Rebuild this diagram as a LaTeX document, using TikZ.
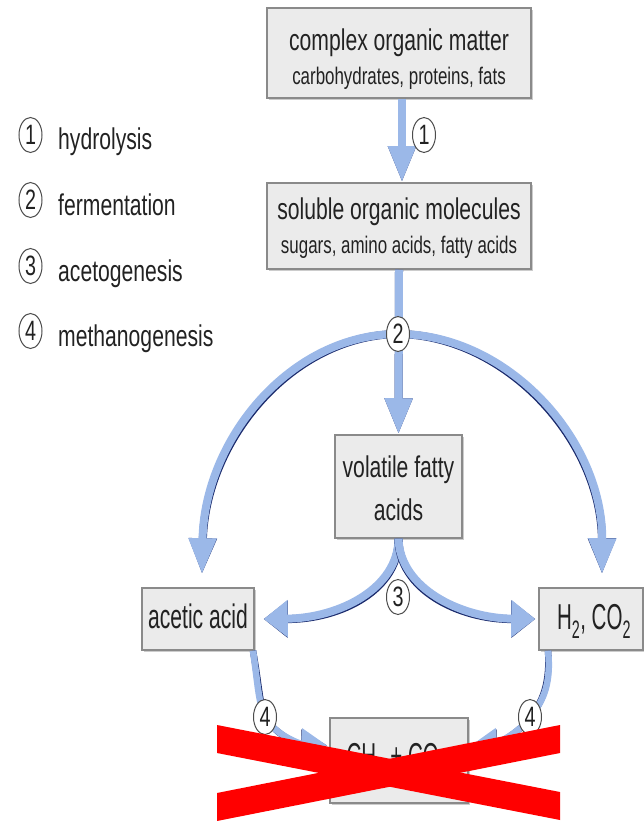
\documentclass[tikz,border=0pt]{standalone}
\usepackage{fontspec}
\setmainfont{Liberation Sans}[FakeStretch=0.705]
\newfontfamily\acetfont{Liberation Sans}[FakeStretch=0.62]
\newfontfamily\htwofont{Liberation Sans}[FakeStretch=0.57]
\usetikzlibrary{arrows.meta,shapes.geometric,shadows}
\definecolor{flowblue}{HTML}{9BB8E8}
\definecolor{navy}{HTML}{1A2A6C}
\definecolor{boxfill}{HTML}{EBEBEB}
\definecolor{boxline}{HTML}{8A8A8A}
\definecolor{txt}{HTML}{222222}
\newcommand\flowdraw[3][]{%
  \draw[flowline, draw=navy, shift={#2}, #1] #3;
  \draw[flowline, #1] #3;}
\begin{document}
\begin{tikzpicture}[x=1pt,y=-1pt,
  box/.style={draw=boxline, line width=1.5pt, fill=boxfill, inner sep=0pt,
    drop shadow={shadow xshift=1.5pt, shadow yshift=-2pt, fill=gray!50, opacity=0.8}},
  big/.style={font=\fontsize{30}{34}\selectfont, text=txt, inner sep=0pt},
  acet/.style={font=\acetfont\fontsize{34}{38}\selectfont, text=txt, inner sep=0pt},
  htwo/.style={font=\htwofont\fontsize{36}{40}\selectfont, text=txt, inner sep=0pt},
  small/.style={font=\fontsize{24}{28}\selectfont, text=txt, inner sep=0pt},
  badge/.style={ellipse, draw=black!70, line width=1pt, fill=white,
    minimum width=23pt, minimum height=35pt, inner sep=0pt,
    font=\fontsize{28}{30}\selectfont, text=txt},
  flowline/.style={line width=8pt, draw=flowblue, -{Triangle[width=26pt,length=36pt]}},
  sidehead/.style={-{Triangle[width=36pt,length=24pt]}},
  endhead/.style={line width=6.5pt, -{Triangle[width=30pt,length=26pt]}}
]
\useasboundingbox (0,0) rectangle (643,821);

% boxes
\node[box, minimum width=264pt, minimum height=90pt] (top) at (399,53) {};
\node[box, minimum width=264pt, minimum height=86pt] (sol) at (399,226) {};
\node[box, minimum width=127pt, minimum height=103pt] (vfa) at (398.5,486.5) {};
\node[box, minimum width=112pt, minimum height=62pt] (acetic) at (198,619) {};
\node[box, minimum width=104pt, minimum height=62pt] (h2) at (591,619) {};
\node[box, minimum width=138pt, minimum height=85pt] (bot) at (399,760.5) {};

% box texts
\node[big] (topt) at (399,42.5) {complex organic matter};
\node[small] (tops) at (399,78) {carbohydrates, proteins, fats};
\node[big] (solt) at (399,212) {soluble organic molecules};
\node[small] (sols) at (399,247) {sugars, amino acids, fatty acids};
\node[big] (vfat) at (398.5,470) {volatile fatty};
\node[big] (vfas) at (398.5,510) {acids};
\node[acet] (acett) at (198,616) {acetic acid};
\node[htwo, anchor=base] (h2t) at (594,629) {H\textsubscript{2}, CO\textsubscript{2}};
\node[htwo, anchor=base] (bott) at (397,768) {CH\textsubscript{4} + CO\textsubscript{2}};

% junction coordinates
\coordinate (c2) at (398,334);
\coordinate (c4l) at (265,717);
\coordinate (c4r) at (530,717);

% arrows
\flowdraw{(1.3,1.3)}{([xshift=3pt]top.south) -- ([xshift=3pt]sol.north)}
\flowdraw{(1.3,1.3)}{(sol.south) -- (vfa.north)}
\flowdraw{(1.3,1.3)}{(c2) .. controls (290,334) and (204,440) .. ([xshift=4pt,yshift=13pt]acetic.north)}
\flowdraw{(-1.3,1.3)}{(c2) .. controls (508,334) and (603,440) .. ([xshift=11pt,yshift=13pt]h2.north)}
\flowdraw[sidehead]{(1.3,1.3)}{(vfa.south) .. controls (398,588) and (340,618) .. ([xshift=9pt]acetic.east)}
\flowdraw[sidehead]{(-1.3,1.3)}{(vfa.south) .. controls (400,588) and (460,618) .. ([xshift=-3pt]h2.west)}
\flowdraw[endhead]{(1.3,1.3)}{([xshift=55pt]acetic.south) .. controls (258,685) and (258,700) .. (c4l) .. controls (275,735) and (300,744) .. ([xshift=-2pt,yshift=15pt]bot.west)}
\flowdraw[endhead]{(-1.3,1.3)}{([xshift=-43pt]h2.south) .. controls (552,688) and (540,705) .. (c4r) .. controls (520,733) and (495,744) .. ([xshift=2pt,yshift=15pt]bot.east)}

% badges on arrows
\node[badge] (b1) at (424,135) {1};
\node[badge] (b2) at (c2) {2};
\node[badge] (b3) at (398,597) {3};
\node[badge] (b4l) at (c4l) {4};
\node[badge] (b4r) at (c4r) {4};

% legend
\node[badge] (l1) at (30.5,135) {1};
\node[badge] (l2) at (30.5,200) {2};
\node[badge] (l3) at (30.5,266) {3};
\node[badge] (l4) at (30.5,331) {4};
\node[big, anchor=base west] (l1t) at (58,150) {hydrolysis};
\node[big, anchor=base west] (l2t) at (58,215) {fermentation};
\node[big, anchor=base west] (l3t) at (58,281) {acetogenesis};
\node[big, anchor=base west] (l4t) at (58,346) {methanogenesis};

% red cross
\fill[red] (217,725) -- (560,792) -- (560,820) -- (217,753) -- cycle;
\fill[red] (217,793) -- (560,725) -- (560,753) -- (217,821) -- cycle;
\end{tikzpicture}
\end{document}
